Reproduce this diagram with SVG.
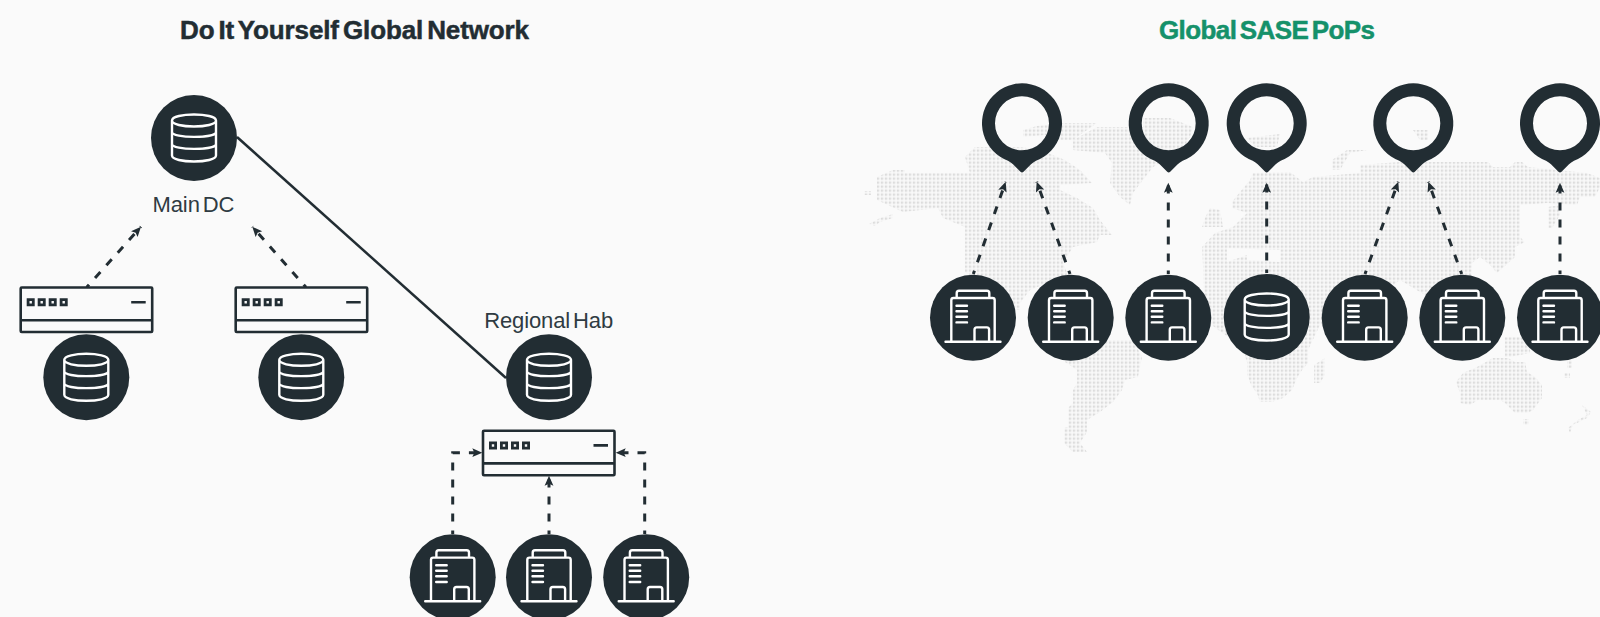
<svg xmlns="http://www.w3.org/2000/svg" width="1600" height="617" viewBox="0 0 1600 617">
<style>
.bg{fill:#fafafa}
.disc{fill:#222d33}
.ico{fill:none;stroke:#fff;stroke-width:2.4;stroke-linejoin:round;stroke-linecap:round}
.rt{fill:none;stroke:#222d33;stroke-width:2.6;stroke-linejoin:round}
.rb{fill:#222d33}
.title{font-family:"Liberation Sans",Arial,sans-serif;font-weight:700;font-size:26px;word-spacing:-3px;stroke-width:.5px}
.lbl{font-family:"Liberation Sans",Arial,sans-serif;font-size:22px;fill:#2f3b42;word-spacing:-3px}
.solid{fill:none;stroke:#222d33;stroke-width:2.5}
.dash{fill:none;stroke:#222d33;stroke-width:3;stroke-dasharray:8 9;stroke-dashoffset:4.5;marker-end:url(#ah)}
.map{fill:url(#dots);fill-rule:evenodd}
</style>
<defs>
<pattern id="dots" patternUnits="userSpaceOnUse" x="0.8" y="1.5" width="4" height="4"><rect width="2.4" height="2.4" fill="#dcdcdc"/></pattern>
<marker id="ah" markerUnits="userSpaceOnUse" markerWidth="12" markerHeight="12" refX="10" refY="5" orient="auto" overflow="visible"><path d="M0,0.6L10,5L0,9.4L2,5Z" fill="#222d33"/></marker>
<g id="db"><circle class="disc" r="43"/><path class="ico" d="M-22,-17.5C-22,-25.5 22,-25.5 22,-17.5C22,-9.5 -22,-9.5 -22,-17.5V17.5C-22,25.5 22,25.5 22,17.5V-17.5M-22,-6C-22,0.5 22,0.5 22,-6M-22,6C-22,12.5 22,12.5 22,6"/></g>
<g id="bld"><circle class="disc" r="43"/><path class="ico" d="M-21.7,24V-17.5Q-21.7,-19.7 -19.5,-19.7H19.5Q21.7,-19.7 21.7,-17.5V24M-16.3,-19.7V-24.5Q-16.3,-27 -14,-27H14Q16.3,-27 16.3,-24.5V-19.7M-27.5,24H27.5M-16.5,-12H-6M-16.5,-6.5H-6M-16.5,-1H-6M-16.5,4.7H-6M1.5,24V12Q1.5,9.7 3.8,9.7H13.8Q16.1,9.7 16.1,12V24"/></g>
<g id="router"><rect class="rt" x="0" y="0" width="131.5" height="44.5" rx="1"/><path class="rt" d="M0,32.7H131.5M110.5,14.7H125"/><path class="rb" fill-rule="evenodd" d="M6,10.8h8v8h-8zM8.8,13.6v2.4h2.4v-2.4zM17,10.8h8v8h-8zM19.8,13.6v2.4h2.4v-2.4zM28,10.8h8v8h-8zM30.8,13.6v2.4h2.4v-2.4zM39,10.8h8v8h-8zM41.8,13.6v2.4h2.4v-2.4z"/></g>
<path id="pinShape" fill-rule="evenodd" d="M-14,37.5A40,40 0 1 1 14,37.5Q11,39 9,41L1.5,48.5Q0,50 -1.5,48.5L-9,41Q-11,39 -14,37.5ZM0,-27A27,27 0 1 0 0,27A27,27 0 1 0 0,-27Z" fill="#222d33"/>
</defs>
<rect class="bg" width="1600" height="617"/>
<g id="world-map">
<path class="map" d="M877,177L893,170H905V173H970L965,157L975,147H1020L1040,150L1065,160L1080,170L1092,183L1060,185V190L1077,198L1093,208L1100,220L1112,235H1100L1097,242L1073,247L1063,263L1068,275L1030,290L1020,303V310H1000L985,285L965,272V227L943,218L938,208L903,212L877,200Z"/>
<path class="map" d="M864,191H871V195H864ZM869,224L880,218L893,214V218L880,222L875,226Z"/>
<path class="map" d="M1023,137V130L1037,126L1063,123H1097L1073,140H1060L1045,135Z"/>
<path class="map" d="M1073,140L1097,127H1143V118H1170L1193,127L1190,137L1180,153L1153,167L1133,193L1130,205L1120,197L1110,183L1112,163L1105,153L1073,150Z"/>
<path class="map" d="M1065,362L1077,370V383L1073,390V403L1068,408V427L1064,428V443L1073,452H1087L1080,443L1087,432V420L1100,412L1113,402L1122,390L1125,380L1138,377L1142,357L1133,340H1060Z"/>
<path class="map" d="M1247,138L1280,134L1277,147H1255Z"/>
<path class="map" d="M1210,208L1220,210L1223,227H1202L1205,218Z"/>
<path class="map" d="M1232,208V202L1240,192L1250,180L1253,173L1290,172L1303,182L1313,177L1360,173V165L1400,162H1488L1493,167H1510L1515,162H1522L1528,167L1587,173L1600,178V187L1595,197H1580L1577,205L1547,203L1520,205V237L1525,242L1515,247V257L1497,273L1490,265L1480,257L1472,263L1470,300L1465,330H1440L1425,295L1400,280L1380,295L1345,320L1320,325L1308,350V363L1302,370L1297,378L1292,390L1283,398L1272,402H1260L1257,393L1252,387L1247,375V362L1240,340L1225,335L1205,320L1203,265L1202,247L1215,233L1233,227L1247,213ZM1227,248L1280,250V262L1247,260V255L1227,262Z"/>
<path class="map" d="M1548,207L1560,205V215L1552,228H1548Z"/>
<path class="map" d="M1332,170V160L1347,150H1367L1350,153L1340,170Z"/>
<path class="map" d="M1413,130H1428V140H1420Z"/>
<path class="map" d="M1314,365L1325,358V375L1320,383H1314Z"/>
<path class="map" d="M1505,337H1530V353L1510,357H1505Z"/>
<path class="map" d="M1463,373L1477,367L1493,358H1508L1515,362H1525L1527,372L1535,377L1542,385V398L1533,410L1528,413H1515L1505,403L1500,400H1478L1470,405L1460,403V393L1456,382Z"/>
<path class="map" d="M1523,419H1529V425H1523ZM1582,405L1591,412L1587,418L1573,425L1570,433L1568,428L1578,420L1587,415ZM1567,360H1572V368H1567ZM1564,373H1570V378H1564Z"/>
</g>
<g id="connectors">
<path class="solid" d="M237,137L506,378"/>
<path class="dash" d="M86.7,287.3L141,226.7"/>
<path class="dash" d="M306,287.3L252.3,226.7"/>
<path class="dash" d="M452.7,534L452.7,452.7H482.3"/>
<path class="dash" d="M549,534V475.7"/>
<path class="dash" d="M644.7,534V452.7H615.7"/>
<path class="dash" d="M973.3,274L1005.7,181.7"/>
<path class="dash" d="M1070,274L1036.7,181.7"/>
<path class="dash" d="M1168.3,274V182.7"/>
<path class="dash" d="M1266.7,273V182.7"/>
<path class="dash" d="M1365,274L1398.3,181.7"/>
<path class="dash" d="M1461.7,274L1428.3,181.7"/>
<path class="dash" d="M1560,274V182.7"/>
</g>
<text id="title-left" class="title" x="354.5" y="39" text-anchor="middle" fill="#222d33" stroke="#222d33" textLength="349" lengthAdjust="spacing">Do It Yourself Global Network</text>
<text id="title-right" class="title" x="1267" y="39" text-anchor="middle" fill="#15916a" stroke="#15916a" textLength="216" lengthAdjust="spacing">Global SASE PoPs</text>
<g id="main-dc"><use href="#db" x="194" y="138"/><text class="lbl" x="193.5" y="212" text-anchor="middle" textLength="82" lengthAdjust="spacing">Main DC</text></g>
<g id="router-1"><use href="#router" x="20.7" y="287.5"/></g>
<g id="router-2"><use href="#router" x="235.7" y="287.5"/></g>
<g id="router-3"><use href="#router" x="483" y="430.7"/></g>
<g id="db-1"><use href="#db" x="86.3" y="377.3"/></g>
<g id="db-2"><use href="#db" x="301.3" y="377.3"/></g>
<g id="regional-hub"><use href="#db" x="549" y="377.3"/><text class="lbl" x="548.7" y="328" text-anchor="middle" textLength="129" lengthAdjust="spacing">Regional Hab</text></g>
<g id="branch-1"><use href="#bld" x="452.7" y="577.3"/></g>
<g id="branch-2"><use href="#bld" x="549" y="577.3"/></g>
<g id="branch-3"><use href="#bld" x="646.2" y="577.3"/></g>
<g id="pin-1"><use href="#pinShape" x="1022" y="123.3"/></g>
<g id="pin-2"><use href="#pinShape" x="1168.7" y="123.3"/></g>
<g id="pin-3"><use href="#pinShape" x="1266.7" y="123.3"/></g>
<g id="pin-4"><use href="#pinShape" x="1413.3" y="123.3"/></g>
<g id="pin-5"><use href="#pinShape" x="1560" y="123.3"/></g>
<g id="site-1"><use href="#bld" x="973" y="317.7"/></g>
<g id="site-2"><use href="#bld" x="1070.7" y="317.7"/></g>
<g id="site-3"><use href="#bld" x="1168.3" y="317.7"/></g>
<g id="site-4"><use href="#db" x="1266.7" y="317"/></g>
<g id="site-5"><use href="#bld" x="1364.7" y="317.7"/></g>
<g id="site-6"><use href="#bld" x="1462.3" y="317.7"/></g>
<g id="site-7"><use href="#bld" x="1560" y="317.7"/></g>
</svg>
